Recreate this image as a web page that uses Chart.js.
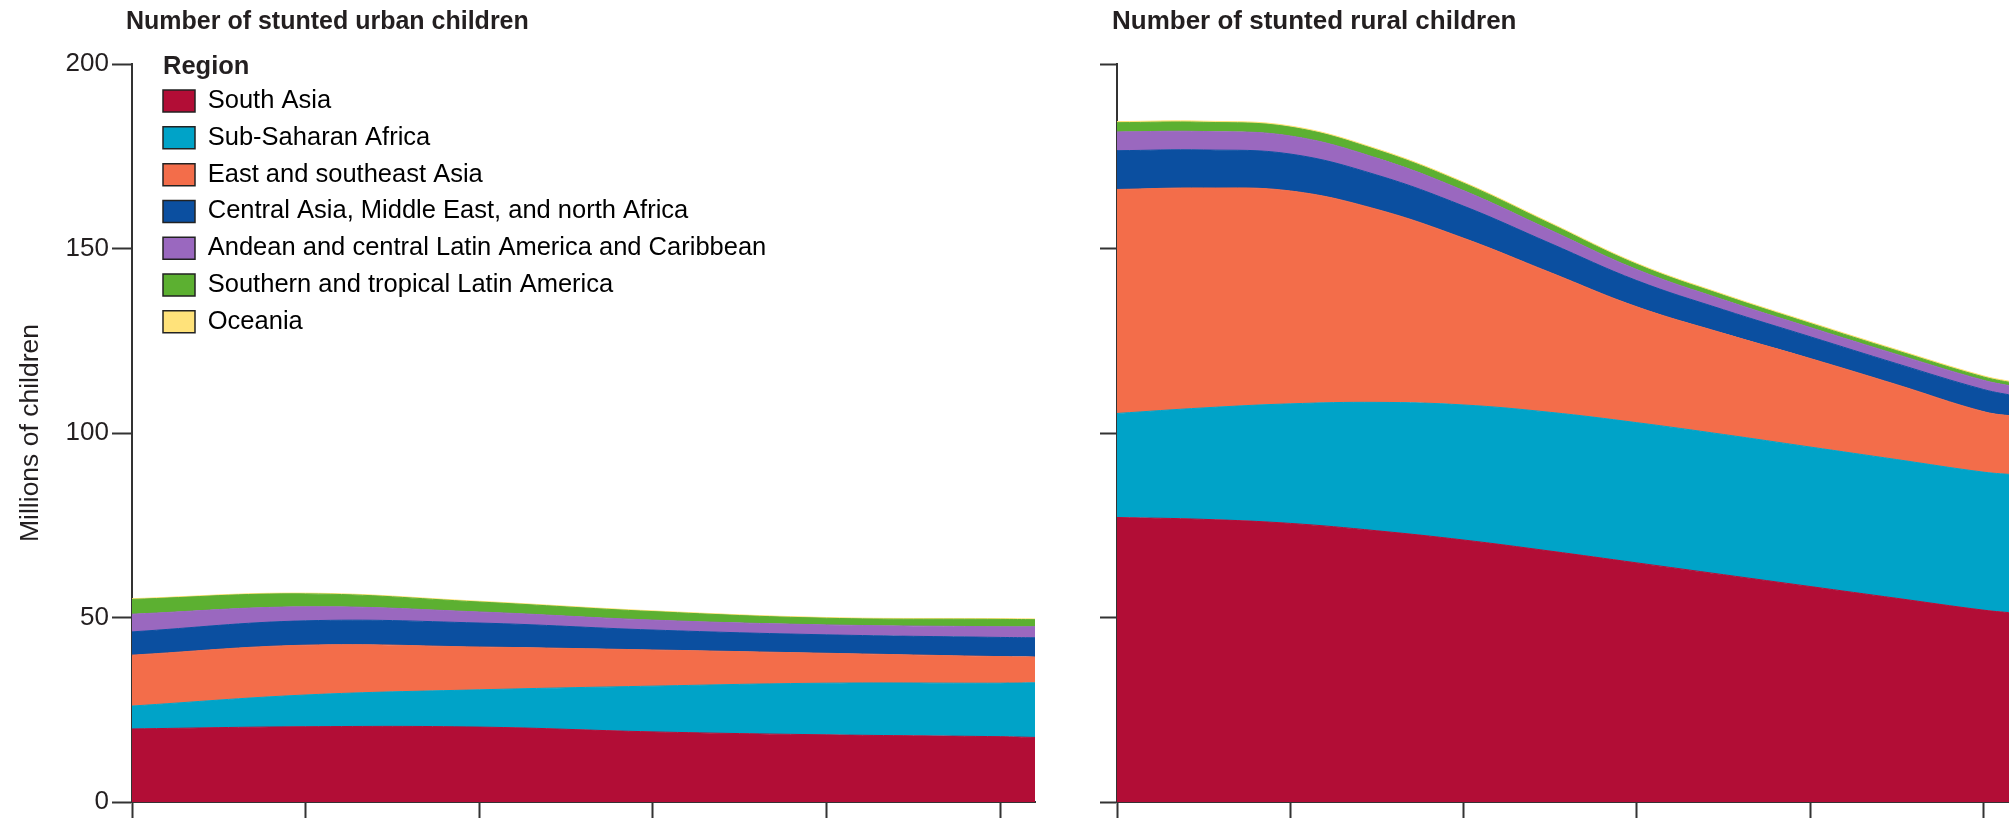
<!DOCTYPE html>
<html>
<head>
<meta charset="utf-8">
<script src="https://cdn.jsdelivr.net/npm/chart.js@4.4.1/dist/chart.umd.min.js"></script>
<style>
  html, body { margin: 0; padding: 0; background: #fff; overflow: hidden; width: 2009px; height: 833px; }
  #urbanWrap { position: absolute; left: 0; top: 0; width: 1040px; height: 833px; }
  #ruralWrap { position: absolute; left: 1060px; top: 0; width: 980px; height: 833px; }
</style>
</head>
<body>
<div id="urbanWrap"><canvas id="urban" width="1040" height="833"></canvas></div>
<div id="ruralWrap"><canvas id="rural" width="980" height="833"></canvas></div>
<script>
// x positions (ticks every 5 years, last estimate 2011)
const urbanYears = [1985, 1990, 1995, 2000, 2005, 2010, 2011];
const ruralYears = [1985, 1987.5, 1990, 1992.5, 1995, 1997.5, 2000, 2002.5, 2005, 2007.5, 2010, 2011];
const yTicks = [0, 50, 100, 150, 200];

const regions = [
  "South Asia",
  "Sub-Saharan Africa",
  "East and southeast Asia",
  "Central Asia, Middle East, and north Africa",
  "Andean and central Latin America and Caribbean",
  "Southern and tropical Latin America",
  "Oceania"
];
const regionColors = ["#b20d36", "#00a3c8", "#f36d4a", "#0b4fa0", "#9a68bf", "#5cb031", "#ffe27a"];

// millions of stunted urban children
const urbanSouthAsia = [19.8, 20.4, 20.3, 19.0, 18.2, 17.7, 17.5];
const urbanSubSaharan = [6.2, 8.6, 10.1, 12.4, 14.0, 14.5, 14.8];
const urbanEastAsia = [13.8, 13.5, 11.6, 9.8, 8.1, 7.2, 7.0];
const urbanCentralAsia = [6.3, 6.6, 6.5, 5.4, 5.0, 5.2, 5.2];
const urbanAndean = [4.8, 3.8, 3.0, 2.7, 2.7, 2.9, 3.0];
const urbanSouthernLatAm = [4.0, 3.5, 2.7, 2.3, 1.8, 2.0, 1.9];
const urbanOceania = [0.2, 0.2, 0.2, 0.2, 0.2, 0.2, 0.2];

// millions of stunted rural children
const ruralSouthAsia = [77.1, 76.6, 75.5, 73.5, 71.0, 68.0, 64.8, 61.6, 58.4, 55.2, 52.0, 51.1];
const ruralSubSaharan = [28.2, 30.2, 32.4, 34.8, 36.6, 37.6, 38.0, 38.0, 37.8, 37.6, 37.4, 37.5];
const ruralEastAsia = [60.7, 59.6, 57.7, 52.3, 45.2, 37.9, 31.4, 27.4, 24.0, 20.3, 16.4, 15.8];
const ruralCentralAsia = [10.5, 10.3, 10.0, 9.3, 8.7, 7.9, 7.1, 6.4, 5.9, 5.7, 6.0, 5.5];
const ruralAndean = [5.1, 5.0, 4.9, 4.6, 4.2, 3.6, 3.0, 2.7, 2.5, 2.5, 2.5, 2.5];
const ruralSouthernLatAm = [2.5, 2.5, 2.4, 2.2, 2.0, 1.7, 1.4, 1.2, 1.1, 1.0, 0.9, 0.9];
const ruralOceania = [0.3, 0.3, 0.3, 0.3, 0.3, 0.3, 0.3, 0.3, 0.3, 0.3, 0.3, 0.3];

const urbanSeries = [urbanSouthAsia, urbanSubSaharan, urbanEastAsia, urbanCentralAsia, urbanAndean, urbanSouthernLatAm, urbanOceania];
const ruralSeries = [ruralSouthAsia, ruralSubSaharan, ruralEastAsia, ruralCentralAsia, ruralAndean, ruralSouthernLatAm, ruralOceania];

const FONT = '"Liberation Sans", Arial, sans-serif';
const INK = "#231f20";
const AXIS = "#333333";

function makeDatasets(series, xs) {
  return series.map((values, i) => ({
    label: regions[i],
    data: values.map((v, j) => ({ x: xs[j], y: v })),
    backgroundColor: regionColors[i],
    borderColor: regionColors[i],
    borderWidth: 1,
    pointRadius: 0,
    tension: 0.4,
    fill: i === 0 ? "origin" : "-1"
  }));
}

// draws panel heading and the legend heading
const panelText = {
  id: "panelText",
  afterDraw(chart, args, opts) {
    const ctx = chart.ctx;
    ctx.save();
    ctx.fillStyle = INK;
    ctx.textAlign = "left";
    ctx.textBaseline = "middle";
    ctx.font = "bold " + opts.titleSize + "px " + FONT;
    ctx.fillText(opts.title, opts.titleX, opts.titleY);
    if (opts.legendTitle) {
      ctx.font = "bold 25.5px " + FONT;
      ctx.fillText(opts.legendTitle, opts.legendTitleX, opts.legendTitleY);
    }
    ctx.restore();
  }
};

// moves the in-plot legend to where the reference has it
const legendPlace = {
  id: "legendPlace",
  afterLayout(chart, args, opts) {
    const lg = chart.legend;
    if (!lg || !opts.move) return;
    const dx = opts.left - lg.left, dy = opts.top - lg.top;
    lg.left += dx; lg.right += dx;
    lg.top += dy; lg.bottom += dy;
  }
};

function makeOptions(cfg) {
  return {
    responsive: false,
    animation: false,
    layout: { padding: { top: 64, right: cfg.padRight, left: 0, bottom: 0 } },
    scales: {
      x: {
        type: "linear",
        min: 1985,
        max: 2011,
        ticks: { display: false, stepSize: 5, includeBounds: false },
        grid: { drawOnChartArea: false, drawTicks: true, tickLength: 16, color: AXIS, tickWidth: 2 },
        border: { display: true, color: AXIS, width: 2 },
        afterFit(scale) { scale.height = 31; }
      },
      y: {
        stacked: true,
        min: 0,
        max: 200,
        afterBuildTicks(scale) { scale.ticks = yTicks.map(v => ({ value: v })); },
        ticks: { display: cfg.yLabels, color: INK, padding: 3, font: { family: FONT, size: 26 } },
        grid: { drawOnChartArea: false, drawTicks: true, tickLength: cfg.yTickLength, color: AXIS, tickWidth: 2 },
        border: { display: true, color: AXIS, width: 2 },
        title: {
          display: cfg.yLabels,
          text: "Millions of children",
          color: INK,
          padding: { top: 15, bottom: 0 },
          font: { family: FONT, size: 26.5 }
        },
        afterFit(scale) { scale.width = cfg.yWidth; }
      }
    },
    plugins: {
      tooltip: { enabled: false },
      legend: {
        display: cfg.legend,
        position: "chartArea",
        align: "start",
        labels: {
          color: INK,
          boxWidth: 32,
          boxHeight: 22,
          padding: 11.3,
          font: { family: FONT, size: 25.5 },
          generateLabels(chart) {
            return chart.data.datasets.map((ds, i) => ({
              text: ds.label,
              fillStyle: ds.backgroundColor,
              strokeStyle: "#222",
              lineWidth: 1.5,
              hidden: false,
              datasetIndex: i
            }));
          }
        }
      },
      legendPlace: { move: cfg.legend, left: 151.7, top: 77 },
      panelText: cfg.text
    }
  };
}

new Chart(document.getElementById("urban"), {
  type: "line",
  data: { datasets: makeDatasets(urbanSeries, urbanYears) },
  options: makeOptions({
    padRight: 5,
    yLabels: true,
    yTickLength: 20,
    yWidth: 132,
    legend: true,
    text: {
      title: "Number of stunted urban children", titleX: 126, titleY: 22, titleSize: 25,
      legendTitle: "Region", legendTitleX: 163, legendTitleY: 67
    }
  }),
  plugins: [panelText, legendPlace]
});

new Chart(document.getElementById("rural"), {
  type: "line",
  data: { datasets: makeDatasets(ruralSeries, ruralYears) },
  options: makeOptions({
    padRight: 22,
    yLabels: false,
    yTickLength: 17,
    yWidth: 57,
    legend: false,
    text: { title: "Number of stunted rural children", titleX: 52, titleY: 22, titleSize: 26 }
  }),
  plugins: [panelText, legendPlace]
});
</script>
</body>
</html>
